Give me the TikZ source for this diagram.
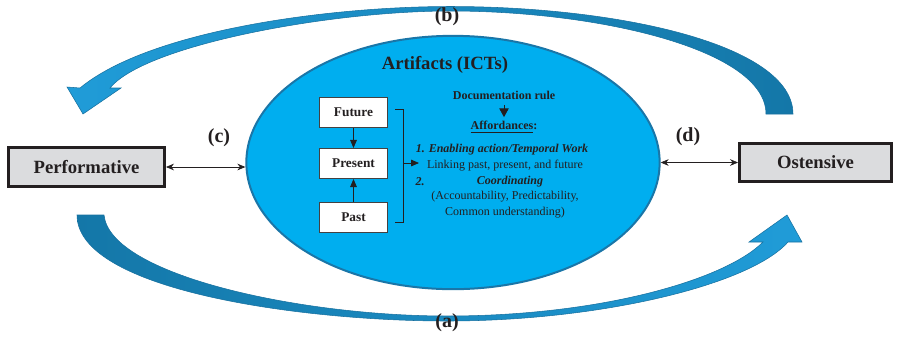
\documentclass[tikz,border=0pt]{standalone}
\usepackage{fontspec}
\setmainfont{Liberation Serif}
\usetikzlibrary{shapes.geometric,arrows.meta}
\definecolor{ictfill}{HTML}{00AEEF}
\definecolor{ictedge}{HTML}{1A76A8}
\definecolor{flowdark}{HTML}{1477A8}
\definecolor{flowlight}{HTML}{209CD8}
\definecolor{flowedge}{HTML}{17709F}
\definecolor{boxgray}{HTML}{DBDCDE}
\definecolor{ink}{HTML}{231F20}

\begin{document}
\begin{tikzpicture}[x=0.75pt,y=-0.75pt]
  \tikzstyle{every node}+=[text=ink]
  \tikzstyle{statebox}=[draw=ink, line width=2.2pt, fill=boxgray, font=\fontsize{14}{16}\selectfont\bfseries]
  \tikzstyle{timebox}=[draw=ink!85, line width=0.8pt, fill=white, minimum width=51pt, minimum height=22.5pt, font=\fontsize{10}{12}\selectfont\bfseries]
  \tikzstyle{tag}=[font=\fontsize{15}{17}\selectfont\bfseries]
  \tikzstyle{plain}=[inner sep=1pt, font=\fontsize{9}{11}\selectfont]
  \tikzstyle{plainbf}=[inner sep=1pt, font=\fontsize{9}{11}\selectfont\bfseries]
  \tikzstyle{plainit}=[inner sep=1pt, font=\fontsize{9}{11}\selectfont\bfseries\itshape]
  \tikzstyle{flow}=[draw=flowedge, line width=0.4pt]
  \tikzstyle{duplex}=[{Stealth[length=6pt,width=5pt]}-{Stealth[length=6pt,width=5pt]}, draw=ink, line width=0.5pt]
  \tikzstyle{timearrow}=[-{Triangle[length=6pt,width=5pt]}, draw=ink, line width=0.6pt]
  \useasboundingbox (0,0) rectangle (897,337);

  % (b) arrow on top, from ostensive back to performative
  \path[flow, left color=flowlight, right color=flowdark]
    (793,114) .. controls (793,45) and (620,6.5) .. (450,6.5)
    .. controls (330,6.5) and (150,30) .. (80,88)
    -- (67,87) -- (83,114) -- (121,88) -- (110,88)
    .. controls (145,45) and (330,11) .. (450,11)
    .. controls (600,11) and (766,50) .. (766,114) -- cycle;
  % (a) arrow below, from performative to ostensive
  \path[flow, left color=flowdark, right color=flowlight]
    (77,215) .. controls (77,290) and (300,321) .. (447,321)
    .. controls (600,321) and (750,285) .. (788,242)
    -- (802,242) -- (787,215) -- (749,242) -- (763,242)
    .. controls (725,280) and (600,316) .. (447,316)
    .. controls (300,316) and (110,275) .. (104,215) -- cycle;

  \node[ellipse, draw=ictedge, line width=1.5pt, fill=ictfill, minimum width=310pt, minimum height=190pt] (artifacts) at (453,162.5) {};
  \node[font=\fontsize{14}{16}\selectfont\bfseries] (title) at (445,65) {Artifacts (ICTs)};

  \node[statebox, minimum width=117pt, minimum height=29.3pt] (perf) at (86.5,167) {Performative};
  \node[statebox, minimum width=114pt, minimum height=28.6pt] (ost) at (815.5,162.5) {Ostensive};

  \node[timebox] (future) at (353.5,112.5) {Future};
  \node[timebox] (present) at (353.5,163.5) {Present};
  \node[timebox] (past) at (353.5,217.5) {Past};
  \draw[timearrow] (future) -- (present);
  \draw[timearrow] (past) -- (present);

  \coordinate (brk) at (403,163);
  \coordinate (brkend) at (419,163);
  \draw[draw=ink, line width=0.6pt] (395,109) -- (403,109) -- (403,222) -- (395,222);
  \draw[timearrow] (brk) -- (brkend);

  \node[plainbf] (doc) at (504,95) {Documentation rule};
  \node[plainbf] (aff) at (504,127) {\underline{Affordances}:};
  \draw[-{Triangle[length=6.5pt,width=7pt]}, draw=ink, line width=0.6pt, shorten <=3pt, shorten >=2pt] (doc) -- (aff);
  \node[plainit] (item1) at (502,150) {1. Enabling action/Temporal Work};
  \node[plain] (linking) at (505,166) {Linking past, present, and future};
  \node[plainit] (num2) at (420,182) {2.};
  \node[plainit] (coord) at (510,182) {Coordinating};
  \node[plain] (acc) at (505,196.5) {(Accountability, Predictability,};
  \node[plain] (common) at (505,213) {Common understanding)};

  \draw[duplex] (perf.east) -- (perf.east -| artifacts.west);
  \draw[duplex] (artifacts.east) -- (artifacts.east -| ost.west);

  \node[tag] (taga) at (447,323) {(a)};
  \node[tag] (tagb) at (447,17) {(b)};
  \node[tag] (tagc) at (219,138) {(c)};
  \node[tag] (tagd) at (688,137) {(d)};
\end{tikzpicture}
\end{document}
